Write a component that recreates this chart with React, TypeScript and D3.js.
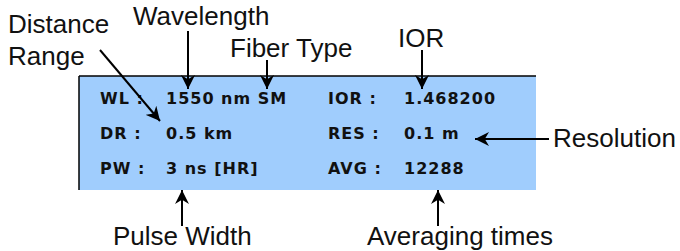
import React from "react";
import * as d3 from "d3";

// panel contents
const leftKeys = ["WL :", "DR :", "PW :"];
const leftValues = ["1550 nm SM", "0.5 km", "3 ns [HR]"];
const rightKeys = ["IOR :", "RES :", "AVG :"];
const rightValues = ["1.468200", "0.1 m", "12288"];

// callout labels and where their arrows point
const callouts = [
    {lines: ["Distance", "Range"], x: 8, y: 33, from: [100, 50], to: [160, 121]},
    {lines: ["Wavelength"], x: 133, y: 25, from: [188, 31], to: [188, 89]},
    {lines: ["Fiber Type"], x: 230, y: 57, from: [267, 60], to: [267, 89]},
    {lines: ["IOR"], x: 398, y: 47, from: [422, 50], to: [422, 89]},
    {lines: ["Resolution"], x: 553, y: 147, from: [549, 139], to: [475, 139]},
    {lines: ["Pulse Width"], x: 113, y: 245, from: [182, 226], to: [182, 190]},
    {lines: ["Averaging times"], x: 367, y: 245, from: [438, 226], to: [438, 190]},
];

export default function App() {
    const width = 680;
    const height = 251;
    const box = {x: 79, y: 76, w: 457, h: 114};

    const rowY = d3.scalePoint<number>()
        .domain([0, 1, 2])
        .range([98, 168]);

    const font = "'DejaVu Sans', Verdana, sans-serif";

    return (
        <svg width={width} height={height} style={{position: "absolute", left: 0, top: 0}}>
            <defs>
                <marker id="head" viewBox="0 0 10 10" refX="10" refY="5"
                        markerWidth="14" markerHeight="14" markerUnits="userSpaceOnUse" orient="auto">
                    <path d="M0,0 L10,5 L0,10 L3,5 z" fill="#000"/>
                </marker>
            </defs>
            <rect x={box.x} y={box.y} width={box.w} height={box.h} fill="#a0cdfd"/>
            <line x1={box.x} y1={box.y} x2={box.x + box.w} y2={box.y} stroke="#000" strokeWidth={1.5}/>
            <line x1={box.x} y1={box.y} x2={box.x} y2={box.y + box.h} stroke="#000" strokeWidth={1.5}/>

            <g fontFamily={font} fontWeight="bold" fontSize={16} letterSpacing={1} fill="#111">
                {leftKeys.map((k, i) => (
                    <text key={k} x={100} y={rowY(i)! + 6}>{k}</text>
                ))}
                {leftValues.map((v, i) => (
                    <text key={v} x={166} y={rowY(i)! + 6}>{v}</text>
                ))}
                {rightKeys.map((k, i) => (
                    <text key={k} x={328} y={rowY(i)! + 6}>{k}</text>
                ))}
                {rightValues.map((v, i) => (
                    <text key={v} x={404} y={rowY(i)! + 6}>{v}</text>
                ))}
            </g>

            <g fontFamily="'Liberation Sans', Arial, sans-serif" fontSize={26} fill="#111">
                {callouts.map(c => (
                    <g key={c.lines[0]}>
                        {c.lines.map((l, j) => (
                            <text key={l} x={c.x} y={c.y + j * 32}>{l}</text>
                        ))}
                        <line x1={c.from[0]} y1={c.from[1]} x2={c.to[0]} y2={c.to[1]}
                              stroke="#000" strokeWidth={2} markerEnd="url(#head)"/>
                    </g>
                ))}
            </g>
        </svg>
    );
}
